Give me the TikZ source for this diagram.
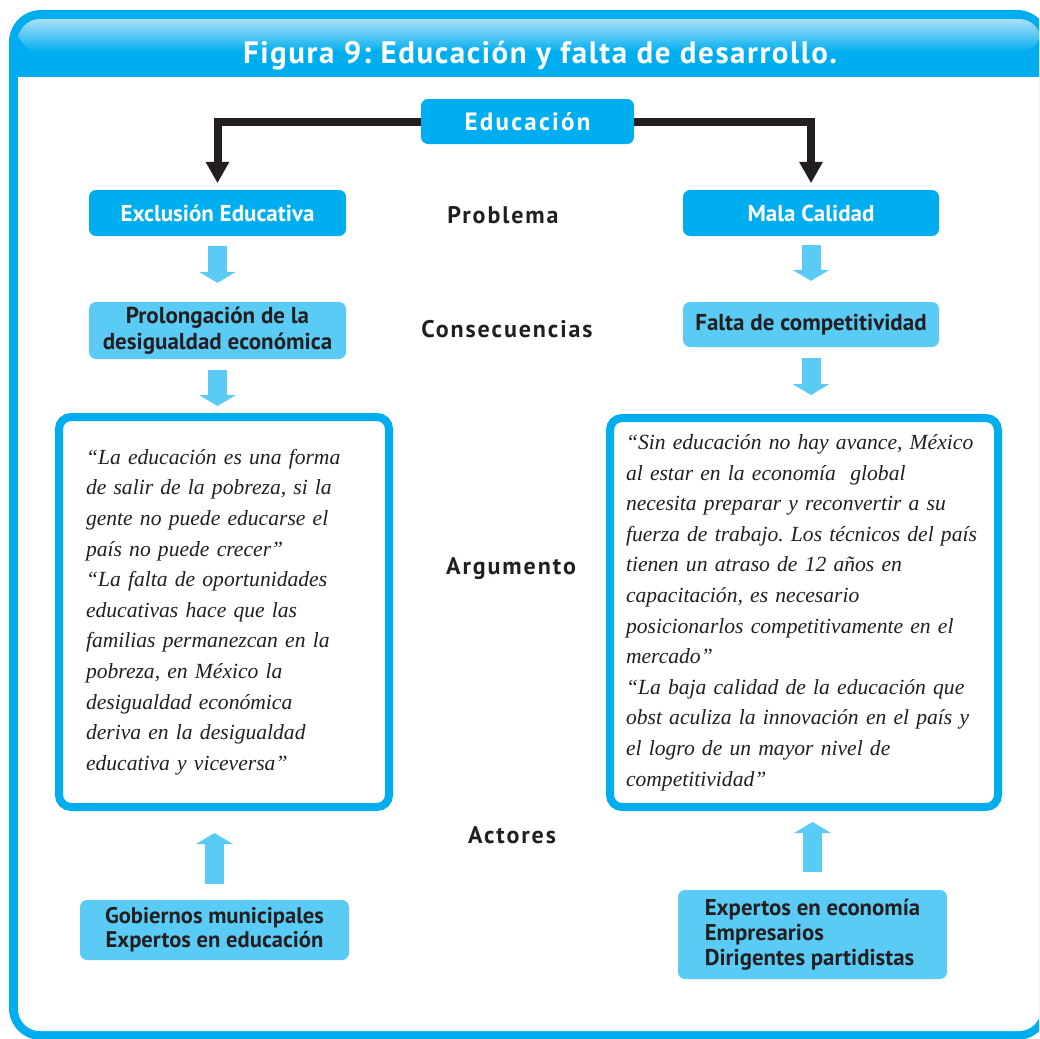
\documentclass[tikz,border=0pt]{standalone}
\usepackage{fontspec}
\setmainfont{PT Sans}
\newfontfamily\quotefont{Liberation Serif}
\newfontfamily\spacedfont[LetterSpace=9]{PT Sans}
\newfontfamily\labelfont[LetterSpace=8]{PT Sans}
\newfontfamily\titlefont[LetterSpace=5]{PT Sans}
\usepackage{tikz}
\usetikzlibrary{arrows.meta, positioning, calc}
\frenchspacing

\definecolor{cyanA}{RGB}{0,174,239}
\definecolor{cyanB}{RGB}{90,203,245}
\definecolor{cyanL}{RGB}{170,223,247}
\definecolor{inkdark}{RGB}{35,31,32}

\tikzset{
  darkbox/.style={fill=cyanA, text=white, rounded corners=7pt, inner sep=0pt,
    align=center, font=\bfseries\fontsize{23}{26}\selectfont},
  lightbox/.style={fill=cyanB, text=inkdark, rounded corners=7pt, inner sep=0pt,
    align=center, font=\bfseries\fontsize{23}{26}\selectfont},
  quotebox/.style={draw=cyanA, line width=8pt, fill=white, rounded corners=12pt,
    align=left, text=inkdark, font=\quotefont\itshape\fontsize{21.6}{30.6}\selectfont},
  rowlabel/.style={text=inkdark, font=\labelfont\bfseries\fontsize{24}{26}\selectfont},
  fatarrow/.style={cyanB, line width=19pt, -{Triangle[width=37pt,length=11pt,line width=0pt]}},
  branch/.style={inkdark, line width=8pt, -{Triangle[width=24pt,length=21pt,line width=0pt]}}
}

\begin{document}
\begin{tikzpicture}[x=1pt,y=-1pt]

\useasboundingbox (0,0) rectangle (1039,1039);
\clip (0,0) rectangle (1039,1039);

% ------------------------
% Frame and title bar
% ------------------------
\fill[cyanA, rounded corners=32pt] (9,10) rectangle (1049,1040);
\fill[white, rounded corners=22pt] (18,50) rectangle (1041,1031);
\fill[cyanA] (18,40) rectangle (1041,77);
\shade[top color=cyanL, bottom color=cyanA, rounded corners=22pt] (18,19) rectangle (1041,52);

\node[text=white, font=\titlefont\bfseries\fontsize{31}{33}\selectfont] (title) at (540,56)
  {Figura 9: Educación y falta de desarrollo.};

% ------------------------
% Boxes
% ------------------------
\node[darkbox, minimum width=213pt, minimum height=45pt] (edu) at (527.5,121.5)
  {\spacedfont\fontsize{25}{27}\selectfont Educación};

\node[darkbox, minimum width=257pt, minimum height=46pt] (excl) at (217.5,213)
  {Exclusión Educativa};
\node[darkbox, minimum width=256pt, minimum height=46pt] (mala) at (811,213)
  {Mala Calidad};

\node[lightbox, minimum width=257pt, minimum height=57pt] (prol) at (217.5,330.5)
  {Prolongación de la\\desigualdad económica};
\node[lightbox, minimum width=256pt, minimum height=45pt] (falta) at (811,324.5)
  {Falta de competitividad};

% quotes
\node[quotebox, text width=276pt, inner xsep=27pt, minimum height=390pt] (quoteL) at (224,612)
  {“La educación es una forma\\
   de salir de la pobreza, si la\\
   gente no puede educarse el\\
   país no puede crecer”\\
   “La falta de oportunidades\\
   educativas hace que las\\
   familias permanezcan en la\\
   pobreza, en México la\\
   desigualdad económica\\
   deriva en la desigualdad\\
   educativa y viceversa”};
\node[quotebox, text width=356pt, inner xsep=16pt, minimum height=389pt] (quoteR) at (804,612.5)
  {“Sin educación no hay avance, México\\
   al estar en la economía\ \ global\\
   necesita preparar y reconvertir a su\\
   fuerza de trabajo. Los técnicos del país\\
   tienen un atraso de 12 años en\\
   capacitación, es necesario\\
   posicionarlos competitivamente en el\\
   mercado”\\
   “La baja calidad de la educación que\\
   obst aculiza la innovación en el país y\\
   el logro de un mayor nivel de\\
   competitividad”};

% actors
\node[lightbox, minimum width=269pt, minimum height=60pt, font=\bfseries\fontsize{22.6}{24}\selectfont]
  (actL) at (214.5,930) {Gobiernos municipales\\Expertos en educación};
\node[lightbox, minimum width=269pt, minimum height=89pt, align=left, font=\bfseries\fontsize{22.8}{25}\selectfont]
  (actR) at (812.5,934.5) {Expertos en economía\\Empresarios\\Dirigentes partidistas};

% ------------------------
% Row labels
% ------------------------
\node[rowlabel] (problema) at (503,215) {Problema};
\node[rowlabel] (consec) at (507,329) {Consecuencias};
\node[rowlabel] (argum) at (511,569) {Argumento};
\node[rowlabel] (actores) at (512,835) {Actores};

% ------------------------
% Connectors
% ------------------------
\draw[branch, shorten >=7pt] (edu.west) -| (excl.north);
\draw[branch, shorten >=7pt] (edu.east) -| (mala.north);

\draw[fatarrow, shorten <=10pt, shorten >=19pt] (excl) -- (prol);
\draw[fatarrow, shorten <=9pt, shorten >=21pt] (mala) -- (falta);
\draw[fatarrow, shorten <=11pt, shorten >=7pt] (prol.south) -- (prol.south |- quoteL.north);
\draw[fatarrow, shorten <=11pt, shorten >=19pt] (falta.south) -- (falta.south |- quoteR.north);

\draw[fatarrow, shorten <=16pt, shorten >=22pt] (actL.north) -- (actL.north |- quoteL.south);
\draw[fatarrow, shorten <=18pt, shorten >=11pt] (actR.north) -- (actR.north |- quoteR.south);

\end{tikzpicture}
\end{document}
